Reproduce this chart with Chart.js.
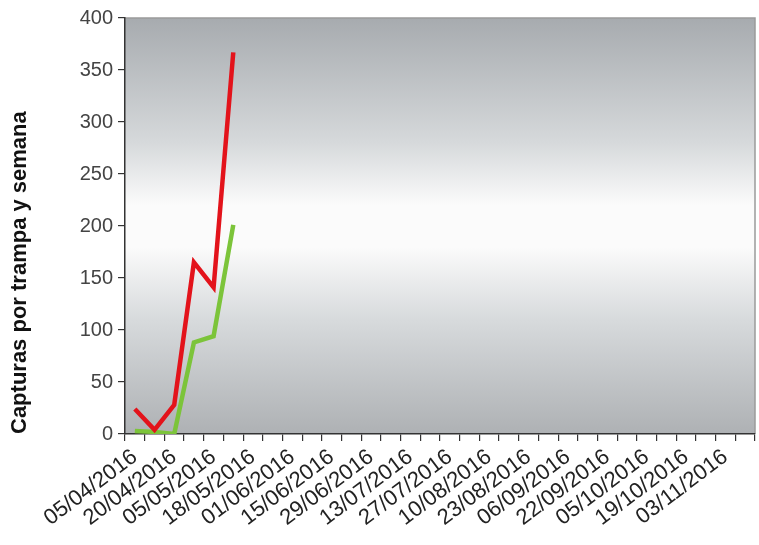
<!DOCTYPE html>
<html>
<head>
<meta charset="utf-8">
<script src="https://cdn.jsdelivr.net/npm/chart.js@4.4.1/dist/chart.umd.min.js"></script>
<style>
  html, body { margin: 0; padding: 0; background: #fff; }
  #wrap { width: 759px; height: 545px; }
</style>
</head>
<body>
<div id="wrap"><canvas id="chart"></canvas></div>
<script>
// weekly sampling dates (only every other one is labelled on the axis)
var fechas = [
  '05/04/2016', '12/04/2016', '20/04/2016', '27/04/2016',
  '05/05/2016', '11/05/2016', '18/05/2016', '25/05/2016',
  '01/06/2016', '08/06/2016', '15/06/2016', '22/06/2016',
  '29/06/2016', '06/07/2016', '13/07/2016', '20/07/2016',
  '27/07/2016', '03/08/2016', '10/08/2016', '17/08/2016',
  '23/08/2016', '30/08/2016', '06/09/2016', '14/09/2016',
  '22/09/2016', '28/09/2016', '05/10/2016', '12/10/2016',
  '19/10/2016', '26/10/2016', '03/11/2016', '10/11/2016'
];
var capturasRoja  = [24, 4, 28, 165, 141, 367];
var capturasVerde = [3, 2, 0, 88, 94, 201];
var yTicks = [0, 50, 100, 150, 200, 250, 300, 350, 400];

var plotBg = {
  id: 'plotBg',
  beforeDraw: function(chart) {
    var ctx = chart.ctx, a = chart.chartArea;
    var g = ctx.createLinearGradient(0, a.top, 0, a.bottom);
    g.addColorStop(0, '#a7abaf');
    g.addColorStop(0.3, '#d6d9db');
    g.addColorStop(0.45, '#fbfbfb');
    g.addColorStop(0.55, '#fbfbfb');
    g.addColorStop(0.72, '#d8dbdd');
    g.addColorStop(1, '#aeb1b4');
    ctx.save();
    ctx.fillStyle = g;
    ctx.fillRect(a.left, a.top, a.right - a.left, a.bottom - a.top);
    ctx.strokeStyle = '#9a9a9a';
    ctx.lineWidth = 1.5;
    ctx.beginPath();
    ctx.moveTo(a.left, a.top);
    ctx.lineTo(a.right, a.top);
    ctx.lineTo(a.right, a.bottom);
    ctx.stroke();
    ctx.restore();
  }
};

var chart = new Chart(document.getElementById('chart'), {
  type: 'line',
  data: {
    labels: fechas,
    datasets: [
      {
        label: 'Roja',
        data: capturasRoja,
        borderColor: '#e3131b',
        borderWidth: 4.5,
        pointRadius: 0,
        tension: 0
      },
      {
        label: 'Verde',
        data: capturasVerde,
        borderColor: '#7cc43a',
        borderWidth: 4.5,
        pointRadius: 0,
        tension: 0
      }
    ]
  },
  options: {
    responsive: true,
    maintainAspectRatio: false,
    animation: false,
    layout: { padding: { top: 18, right: 4, left: 0, bottom: 0 } },
    plugins: {
      legend: { display: false },
      tooltip: { enabled: false }
    },
    scales: {
      x: {
        offset: true,
        afterFit: function(axis) { axis.height = 111; axis.paddingRight = 0; },
        grid: { offset: true, drawOnChartArea: false, tickLength: 7, color: '#333', lineWidth: 1.2 },
        border: { color: '#333', width: 1.5 },
        ticks: {
          autoSkip: false,
          minRotation: 37,
          maxRotation: 37,
          padding: 3,
          color: '#222',
          font: { family: 'Arial, "Liberation Sans"', size: 22 },
          callback: function(v, i) { return i % 2 === 0 ? fechas[i] : ''; }
        }
      },
      y: {
        min: 0,
        max: 400,
        afterFit: function(axis) { axis.width = 125; },
        afterBuildTicks: function(axis) {
          axis.ticks = yTicks.map(function(v) { return { value: v }; });
        },
        grid: { drawOnChartArea: false, tickLength: 7, color: '#333', lineWidth: 1.2 },
        border: { color: '#333', width: 1.5 },
        ticks: {
          padding: 5,
          color: '#444',
          font: { family: 'Arial, "Liberation Sans"', size: 20 }
        },
        title: {
          display: true,
          align: 'start',
          text: 'Capturas por trampa y semana',
          color: '#111',
          padding: { top: 7, bottom: 0 },
          font: { family: 'Arial, "Liberation Sans"', size: 22, weight: 'bold' }
        }
      }
    }
  },
  plugins: [plotBg]
});
</script>
</body>
</html>
